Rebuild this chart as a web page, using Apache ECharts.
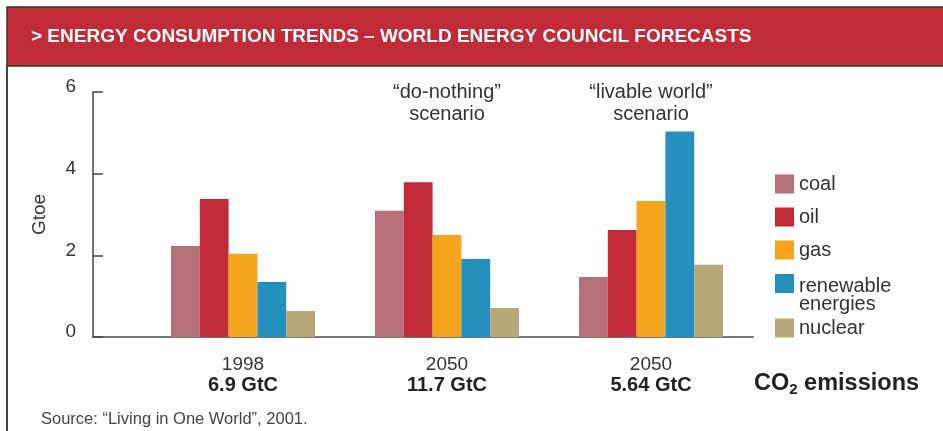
<!DOCTYPE html>
<html>
<head>
    <meta charset="utf-8">
    <title>Energy consumption trends</title>
    <script src="https://cdn.jsdelivr.net/npm/echarts@6/dist/echarts.min.js"></script>
    <style>
        html, body { margin: 0; padding: 0; background: #fff; }
        #main { width: 943px; height: 431px; }
    </style>
</head>
<body>
<div id="main"></div>
<script type="text/javascript">
    // categories and values (Gtoe)
    var categories = ['1998', '2050 do-nothing', '2050 livable world'];
    var years = ['1998', '2050', '2050'];
    var emissions = ['6.9 GtC', '11.7 GtC', '5.64 GtC'];
    var scenarios = ['', '“do-nothing”\nscenario', '“livable world”\nscenario'];
    var yTicks = [0, 2, 4, 6];

    var seriesNames = ['coal', 'oil', 'gas', 'renewable energies', 'nuclear'];
    var coal = [2.23, 3.09, 1.47];
    var oil = [3.38, 3.79, 2.62];
    var gas = [2.04, 2.50, 3.33];
    var renewable = [1.35, 1.91, 5.03];
    var nuclear = [0.64, 0.71, 1.77];

    var colors = ['#b5707a', '#c12a37', '#f5a41e', '#2490bd', '#b8a777'];
    var values = [coal, oil, gas, renewable, nuclear];
    var legendTops = [174, 207, 240, 274, 318];

    var font = '"Liberation Sans", Arial, sans-serif';
    var textColor = '#333';

    var myChart = echarts.init(document.getElementById('main'));

    var series = seriesNames.map(function (name, i) {
        return {
            name: name,
            type: 'bar',
            xAxisIndex: 1,
            yAxisIndex: 1,
            barWidth: 28.8,
            barGap: '0%',
            itemStyle: { color: colors[i] },
            data: values[i]
        };
    });

    // one legend per item; the two-line one gets a tall icon box with the
    // square at its top, so the text starts level with the swatch
    var legends = seriesNames.map(function (name, i) {
        var two = name === 'renewable energies';
        return {
            data: [two ? { name: name, icon: 'path://M0,0H19V19H0Z M19,43' } : name],
            orient: 'vertical',
            left: 775,
            top: legendTops[i],
            padding: 0,
            itemWidth: 19,
            itemHeight: two ? 43 : 19,
            itemGap: 0,
            icon: 'rect',
            selectedMode: false,
            formatter: function (n) { return two ? 'renewable\nenergies' : n; },
            textStyle: {
                fontFamily: font,
                fontSize: 20,
                lineHeight: 18,
                color: textColor
            }
        };
    });

    var option = {
        animation: false,
        backgroundColor: '#fff',
        textStyle: { fontFamily: font },
        graphic: [
            {
                type: 'rect',
                shape: { x: 7, y: 7, width: 940, height: 59 },
                style: { fill: '#c12a37', stroke: '#333', lineWidth: 1.5 },
                z: -1
            },
            {
                type: 'line',
                shape: { x1: 7, y1: 66, x2: 7, y2: 431 },
                style: { stroke: '#444', lineWidth: 2 }
            }
        ],
        title: [
            {
                text: '> ENERGY CONSUMPTION TRENDS – WORLD ENERGY COUNCIL FORECASTS',
                left: 31,
                top: 27,
                padding: 0,
                textStyle: { color: '#fff', fontWeight: 'bold', fontSize: 19, fontFamily: font }
            },
            {
                text: '{a|CO}{s|2}{a| emissions}',
                left: 754,
                top: 371,
                padding: 0,
                textStyle: {
                    rich: {
                        a: { fontFamily: font, fontSize: 23.5, fontWeight: 'bold', color: '#222', lineHeight: 26 },
                        s: { fontFamily: font, fontSize: 15, fontWeight: 'bold', color: '#222', lineHeight: 26, verticalAlign: 'bottom', padding: [10, 0, 0, 0] }
                    }
                }
            },
            {
                text: 'Source: “Living in One World”, 2001.',
                left: 41,
                top: 411,
                padding: 0,
                textStyle: { color: '#444', fontSize: 16.5, fontWeight: 'normal', fontFamily: font }
            }
        ],
        legend: legends,
        grid: [
            { left: 93, right: 190, top: 92, bottom: 94 },
            { left: 141, right: 190, top: 92, bottom: 94 }
        ],
        xAxis: [
            {
                type: 'category',
                gridIndex: 0,
                data: ['a'],
                axisLine: { lineStyle: { color: '#777', width: 2 } },
                axisTick: { show: false },
                axisLabel: { show: false }
            },
            {
                type: 'category',
                gridIndex: 1,
                data: categories,
                axisLine: { show: false },
                axisTick: { show: false },
                axisLabel: {
                    margin: 18,
                    formatter: function (v, i) {
                        return '{y|' + years[i] + '}\n{e|' + emissions[i] + '}';
                    },
                    rich: {
                        y: { fontFamily: font, fontSize: 19, color: textColor, lineHeight: 20 },
                        e: { fontFamily: font, fontSize: 20, fontWeight: 'bold', color: '#222', lineHeight: 20 }
                    }
                }
            },
            {
                type: 'category',
                gridIndex: 1,
                position: 'top',
                data: categories,
                axisLine: { show: false },
                axisTick: { show: false },
                axisLabel: {
                    margin: 11,
                    verticalAlign: 'top',
                    fontFamily: font,
                    fontSize: 20,
                    lineHeight: 22,
                    color: textColor,
                    formatter: function (v, i) { return scenarios[i]; }
                }
            }
        ],
        yAxis: [
            {
                type: 'value',
                gridIndex: 0,
                min: yTicks[0],
                max: yTicks[yTicks.length - 1],
                interval: 2,
                name: 'Gtoe',
                nameLocation: 'middle',
                nameRotate: 90,
                nameGap: 44,
                nameTextStyle: { fontFamily: font, fontSize: 19, color: textColor },
                axisLine: { show: true, lineStyle: { color: '#444', width: 1.5 } },
                axisTick: { show: true, inside: true, length: 10, lineStyle: { color: '#444', width: 1.5 } },
                splitLine: { show: false },
                axisLabel: {
                    margin: 17,
                    fontFamily: font,
                    fontSize: 19,
                    color: textColor,
                    verticalAlign: 'bottom',
                    lineHeight: 10
                }
            },
            {
                type: 'value',
                gridIndex: 1,
                min: yTicks[0],
                max: yTicks[yTicks.length - 1],
                interval: 2,
                show: false,
                splitLine: { show: false }
            }
        ],
        series: series
    };

    myChart.setOption(option);
</script>
</body>
</html>
